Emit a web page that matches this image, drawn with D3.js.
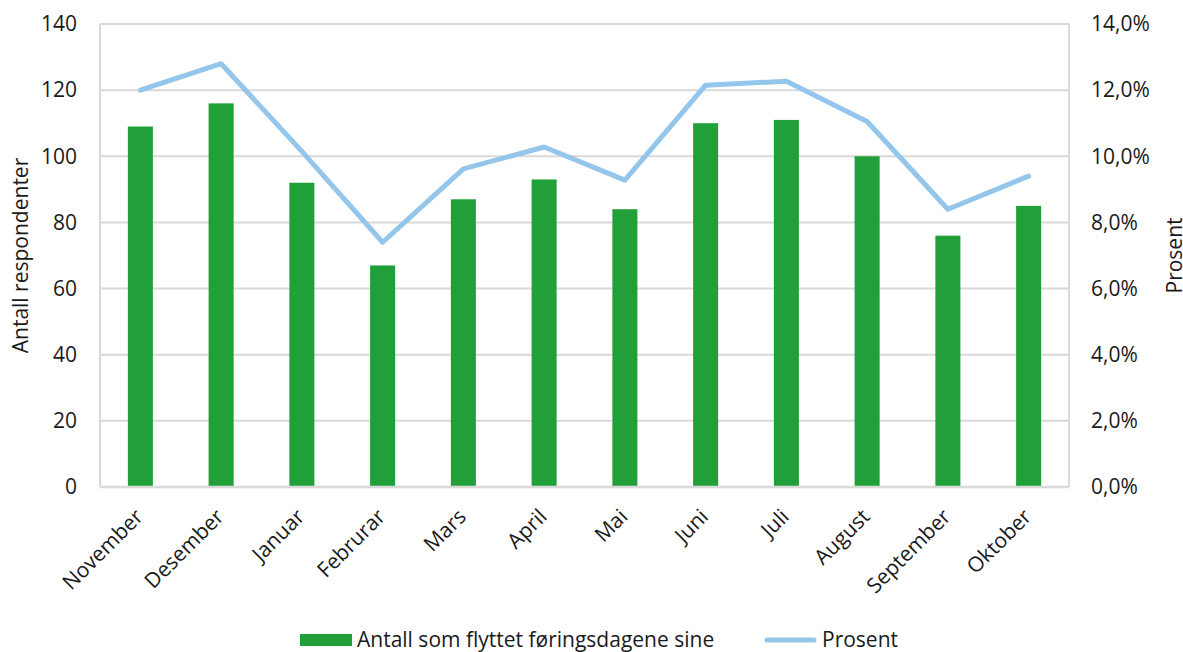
<!DOCTYPE html>
<html>
<head>
<meta charset="utf-8">
<script src="https://cdn.jsdelivr.net/npm/d3@7"></script>
<style>
body { margin: 0; background: #fff; }
svg text { font-family: "Open Sans", sans-serif; }
.tick text { font-size: 21px; fill: #1a1a1a; }
.axis-label { font-size: 21px; fill: #1a1a1a; }
.legend text { font-size: 21px; fill: #1a1a1a; }
</style>
</head>
<body>
<svg width="1183" height="652"></svg>
<script>
const months = ['November', 'Desember', 'Januar', 'Februrar', 'Mars', 'April', 'Mai', 'Juni', 'Juli', 'August', 'September', 'Oktober'];
const counts = [109, 116, 92, 67, 87, 93, 84, 110, 111, 100, 76, 85];
const percents = [12.0, 12.8, 10.15, 7.4, 9.62, 10.28, 9.28, 12.15, 12.27, 11.05, 8.4, 9.4];
const leftTicks = [0, 20, 40, 60, 80, 100, 120, 140];
const rightTicks = [0, 2, 4, 6, 8, 10, 12, 14];

const svg = d3.select('svg');
const width = +svg.attr('width');
const height = +svg.attr('height');

const margin = {top: 24, right: 114, bottom: 165, left: 100};
const innerWidth = width - margin.left - margin.right;
const innerHeight = height - margin.top - margin.bottom;

const data = months.map((m, i) => ({month: m, count: counts[i], pct: percents[i]}));

const xScale = d3.scaleBand()
	.domain(months)
	.range([0, innerWidth]);

const yScale = d3.scaleLinear()
	.domain([0, 140])
	.range([innerHeight, 0]);

const y2Scale = d3.scaleLinear()
	.domain([0, 14])
	.range([innerHeight, 0]);

const g = svg.append('g')
	.attr('transform', `translate(${margin.left}, ${margin.top})`);

// gridlines
g.append('g')
	.selectAll('line')
	.data(leftTicks.filter(t => t > 0))
	.join('line')
		.attr('x1', 0)
		.attr('x2', innerWidth)
		.attr('y1', d => yScale(d))
		.attr('y2', d => yScale(d))
		.attr('stroke', '#d9d9d9')
		.attr('stroke-width', 2);

// side borders
g.append('line')
	.attr('x1', 0).attr('x2', 0)
	.attr('y1', 0).attr('y2', innerHeight)
	.attr('stroke', '#d9d9d9').attr('stroke-width', 2);
g.append('line')
	.attr('x1', innerWidth).attr('x2', innerWidth)
	.attr('y1', 0).attr('y2', innerHeight)
	.attr('stroke', '#d9d9d9').attr('stroke-width', 2);

const yAxis = d3.axisLeft(yScale)
	.tickValues(leftTicks)
	.tickSize(0)
	.tickPadding(23);

const yAxisG = g.append('g').call(yAxis).attr('font-family', null);
yAxisG.select('.domain').remove();

const y2Axis = d3.axisRight(y2Scale)
	.tickValues(rightTicks)
	.tickSize(0)
	.tickPadding(22)
	.tickFormat(d => d3.format('.1f')(d).replace('.', ',') + '%');

const y2AxisG = g.append('g')
	.attr('transform', `translate(${innerWidth}, 0)`)
	.call(y2Axis)
	.attr('font-family', null);
y2AxisG.select('.domain').remove();

// bars
const barW = xScale.bandwidth() * 0.31;
g.append('g')
	.selectAll('rect')
	.data(data)
	.join('rect')
		.attr('x', d => xScale(d.month) + xScale.bandwidth() / 2 - barW / 2)
		.attr('y', d => yScale(d.count))
		.attr('width', barW)
		.attr('height', d => innerHeight - yScale(d.count))
		.attr('fill', '#21a03a');

// bottom axis line
g.append('line')
	.attr('x1', 0).attr('x2', innerWidth)
	.attr('y1', innerHeight).attr('y2', innerHeight)
	.attr('stroke', '#d9d9d9').attr('stroke-width', 2.5);

const xAxis = d3.axisBottom(xScale).tickSize(0).tickPadding(0);
const xAxisG = g.append('g')
	.attr('transform', `translate(0, ${innerHeight})`)
	.call(xAxis)
	.attr('font-family', null);
xAxisG.select('.domain').remove();
xAxisG.selectAll('.tick text')
	.attr('text-anchor', 'end')
	.attr('dy', null)
	.attr('y', 0)
	.attr('transform', 'translate(4, 31) rotate(-45)');

// line
const lineGenerator = d3.line()
	.x(d => xScale(d.month) + xScale.bandwidth() / 2)
	.y(d => y2Scale(d.pct));

g.append('path')
	.attr('d', lineGenerator(data))
	.attr('fill', 'none')
	.attr('stroke', '#94c6ec')
	.attr('stroke-width', 5)
	.attr('stroke-linecap', 'round')
	.attr('stroke-linejoin', 'round');

// axis titles
g.append('text')
	.attr('class', 'axis-label')
	.attr('transform', `translate(${-72}, ${innerHeight / 2}) rotate(-90)`)
	.attr('text-anchor', 'middle')
	.text('Antall respondenter');

g.append('text')
	.attr('class', 'axis-label')
	.attr('transform', `translate(${innerWidth + 113}, ${innerHeight / 2}) rotate(-90)`)
	.attr('text-anchor', 'middle')
	.text('Prosent');

// legend
const legend = svg.append('g').attr('class', 'legend');
legend.append('rect')
	.attr('x', 300).attr('y', 634)
	.attr('width', 52).attr('height', 12)
	.attr('fill', '#21a03a');
legend.append('text')
	.attr('x', 357).attr('y', 647)
	.text('Antall som flyttet føringsdagene sine');
legend.append('line')
	.attr('x1', 767).attr('x2', 814)
	.attr('y1', 640).attr('y2', 640)
	.attr('stroke', '#94c6ec')
	.attr('stroke-width', 5)
	.attr('stroke-linecap', 'round');
legend.append('text')
	.attr('x', 822).attr('y', 647)
	.text('Prosent');
</script>
</body>
</html>
